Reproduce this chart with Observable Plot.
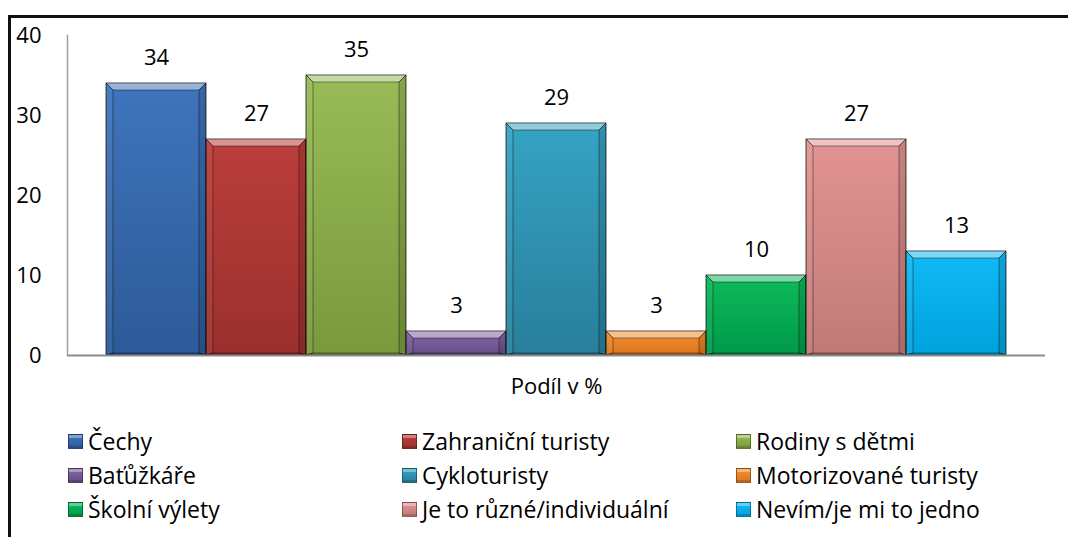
<!DOCTYPE html>
<html>
<head>
<meta charset="utf-8">
<script src="https://cdn.jsdelivr.net/npm/d3@7"></script>
<script src="https://cdn.jsdelivr.net/npm/@observablehq/plot@0.6"></script>
<style>
  html, body { margin: 0; padding: 0; background: #fff; }
  #wrap { position: relative; width: 1068px; height: 537px; overflow: hidden; font-family: "Open Sans", Lato, sans-serif; }
  #border { position: absolute; left: 8px; top: 15px; right: -10px; bottom: -10px; border-top: 3px solid #111; border-left: 3px solid #111; }
  #chart { position: absolute; left: 0; top: 0; }
  #legend { position: absolute; left: 68px; top: 424px; display: grid; grid-template-columns: 334px 334px 334px; grid-auto-rows: 34px; }
  .item { display: flex; align-items: center; font-size: 23px; color: #000; white-space: nowrap; }
  .sw { width: 15px; height: 15px; margin-right: 5px; box-sizing: border-box; flex: none; }
</style>
</head>
<body>
<div id="wrap">
  <div id="border"></div>
  <div id="chart"></div>
  <div id="legend"></div>
</div>
<script>
const categories = ["Čechy", "Zahraniční turisty", "Rodiny s dětmi", "Baťůžkáře", "Cykloturisty", "Motorizované turisty", "Školní výlety", "Je to různé/individuální", "Nevím/je mi to jedno"];
const values = [34, 27, 35, 3, 29, 3, 10, 27, 13];
const topColors = ["#3f74bc", "#bb3e3b", "#98bb57", "#8467a6", "#36a3c3", "#f39033", "#0dbb5a", "#e29492", "#10baf6"];
const bottomColors = ["#2d5a98", "#9a302d", "#7a993c", "#664d87", "#287f9b", "#db741c", "#00994a", "#c07a78", "#00a2dc"];
const yTicks = [0, 10, 20, 30, 40];
const axisTitle = "Podíl v %";

const data = categories.map((c, i) => ({name: c, value: values[i]}));
const gradIds = categories.map((c, i) => `url(#grad${i})`);

const plot = Plot.plot({
  width: 1068,
  height: 400,
  marginTop: 35,
  marginBottom: 45,
  marginLeft: 67,
  marginRight: 23,
  style: {fontFamily: "'Open Sans', Lato, sans-serif", fontSize: "22px", color: "#000", background: "transparent"},
  x: {domain: categories, paddingInner: 0, paddingOuter: 0.375, axis: null},
  y: {domain: [0, 40], axis: null},
  color: {domain: categories, range: gradIds},
  marks: [
    Plot.barY(data, {x: "name", y: "value", fill: "name", stroke: "rgba(0,0,0,0.4)", strokeWidth: 1}),
    Plot.ruleY([0], {stroke: "#8c8c8c", strokeWidth: 2}),
    Plot.frame({anchor: "left", stroke: "#a0a0a0", strokeWidth: 1.5}),
    Plot.axisY({ticks: yTicks, tickSize: 0, tickPadding: 26, fontSize: 22, label: null, tickFormat: d => String(d)}),
    Plot.text(data, {x: "name", y: "value", text: d => String(d.value), dy: -26, lineAnchor: "middle", fontSize: 22, fill: "#000"}),
    Plot.text([axisTitle], {frameAnchor: "bottom", dy: 31, lineAnchor: "middle", fontSize: 22, fill: "#000"})
  ]
});

// gradients
const ns = "http://www.w3.org/2000/svg";
const defs = document.createElementNS(ns, "defs");
categories.forEach((c, i) => {
  const g = document.createElementNS(ns, "linearGradient");
  g.setAttribute("id", `grad${i}`);
  g.setAttribute("x1", "0"); g.setAttribute("y1", "0"); g.setAttribute("x2", "0"); g.setAttribute("y2", "1");
  [[0, topColors[i]], [1, bottomColors[i]]].forEach(([o, col]) => {
    const s = document.createElementNS(ns, "stop");
    s.setAttribute("offset", o); s.setAttribute("stop-color", col);
    g.appendChild(s);
  });
  defs.appendChild(g);
});
plot.insertBefore(defs, plot.firstChild);

// bevel effect on rendered bars
const barGroup = plot.querySelector('g[aria-label="bar"]');
if (barGroup) {
  const rects = Array.from(barGroup.querySelectorAll("rect"));
  rects.forEach(r => {
    const x = +r.getAttribute("x"), y = +r.getAttribute("y"), w = +r.getAttribute("width"), h = +r.getAttribute("height");
    const b = Math.min(7, h / 2);
    const polys = [
      [[x, y], [x + w, y], [x + w - b, y + b], [x + b, y + b], "rgba(255,255,255,0.45)"],
      [[x, y], [x + b, y + b], [x + b, y + h - 2], [x, y + h], "rgba(255,255,255,0.06)"],
      [[x + w, y], [x + w - b, y + b], [x + w - b, y + h - 2], [x + w, y + h], "rgba(0,0,0,0.12)"],
      [[x, y + h], [x + b, y + h - 2], [x + w - b, y + h - 2], [x + w, y + h], "rgba(0,0,0,0.15)"]
    ];
    polys.forEach(p => {
      const fill = p.pop();
      const el = document.createElementNS(ns, "polygon");
      el.setAttribute("points", p.map(q => q.join(",")).join(" "));
      el.setAttribute("fill", fill);
      barGroup.appendChild(el);
    });
  });
}

document.getElementById("chart").appendChild(plot);

// legend
const legend = document.getElementById("legend");
categories.forEach((c, i) => {
  const item = document.createElement("div");
  item.className = "item";
  const sw = document.createElement("span");
  sw.className = "sw";
  sw.style.background = `linear-gradient(to bottom, ${topColors[i]}, ${bottomColors[i]})`;
  sw.style.border = "1px solid rgba(0,0,0,0.35)";
  sw.style.boxShadow = "inset 0 3px 0 rgba(255,255,255,0.35), inset 0 -2px 0 rgba(0,0,0,0.15)";
  const t = document.createElement("span");
  t.textContent = c;
  item.appendChild(sw);
  item.appendChild(t);
  legend.appendChild(item);
});
</script>
</body>
</html>
